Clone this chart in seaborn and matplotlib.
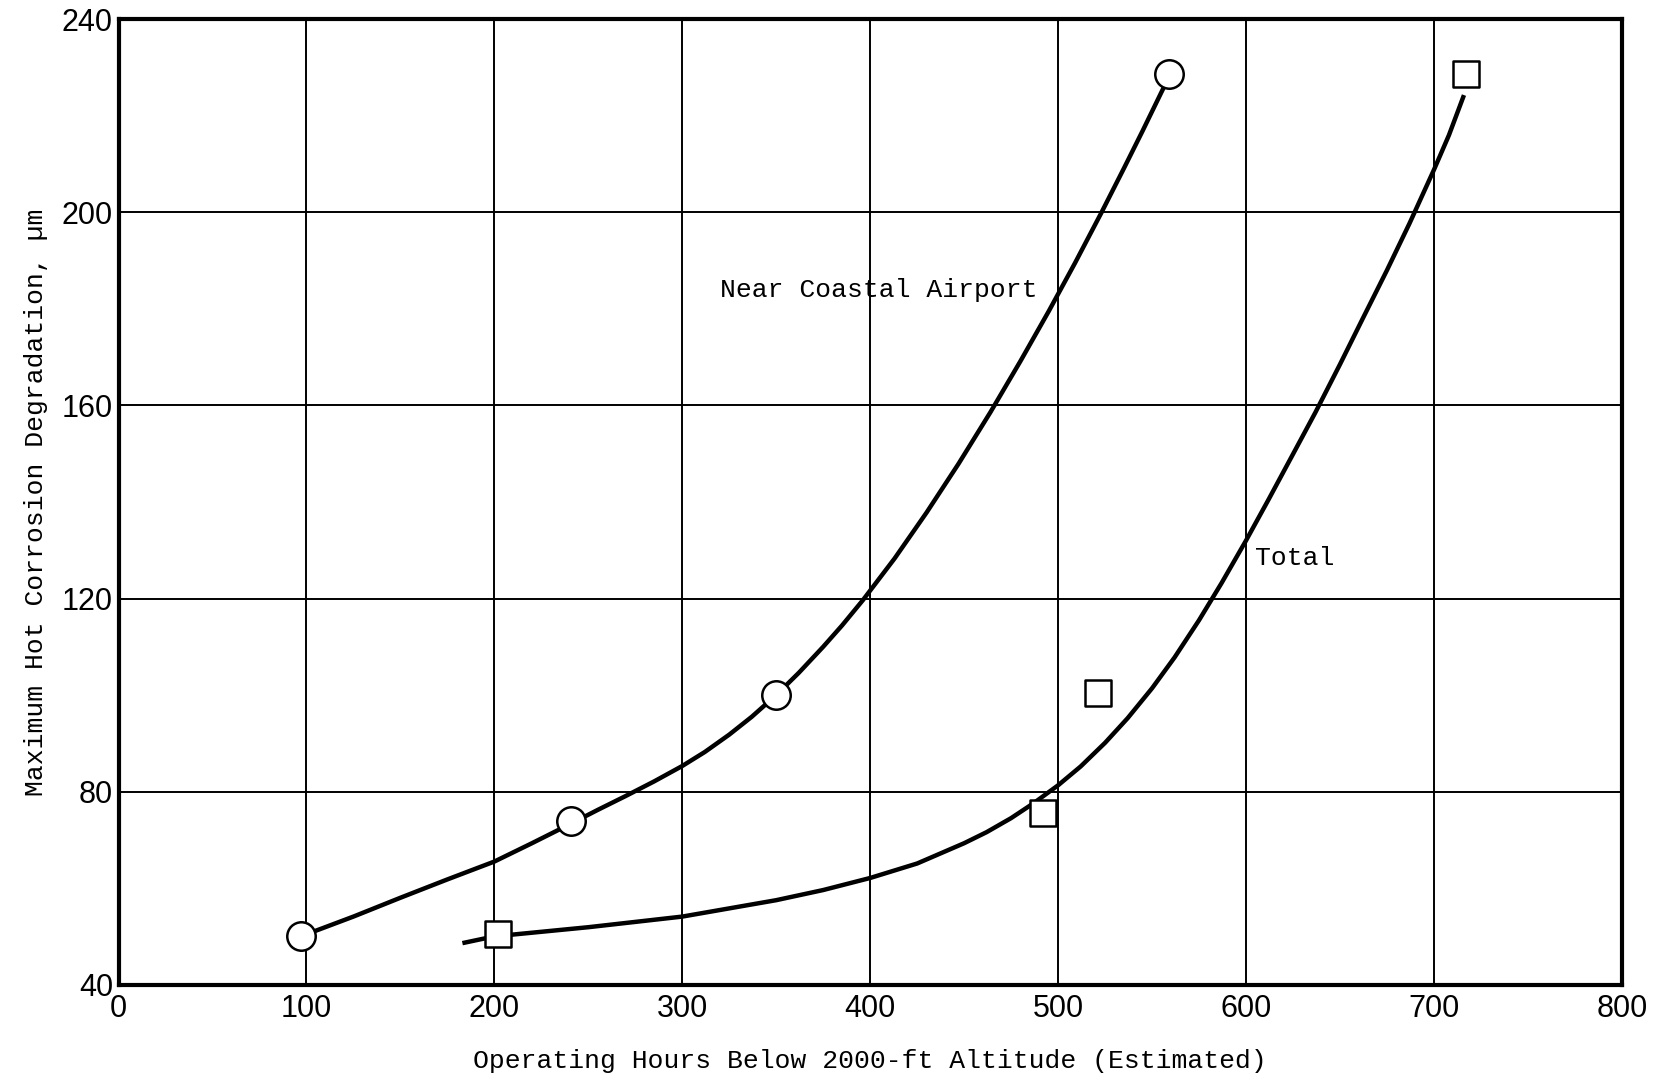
import matplotlib
matplotlib.use("Agg")
import matplotlib.pyplot as plt
from matplotlib import font_manager
import seaborn as sns
import pandas as pd

# ---- data ----
coastal_pts_x = [97, 241, 350, 559]
coastal_pts_y = [50, 74, 100, 228.6]
total_pts_x = [202, 492, 521, 717]
total_pts_y = [50.5, 75.5, 100.5, 228.6]

coastal_curve_x = [97, 125, 150, 175, 200, 220, 241, 255, 270, 285, 300, 312, 325, 337, 350, 362,
                   375, 385, 396, 413, 430, 447, 464, 480, 495, 509, 523, 535, 545, 557]
coastal_curve_y = [50, 54.1, 58.0, 61.8, 65.5, 69.3, 73.4, 76.2, 79.1, 82.1, 85.3, 88.2, 91.8, 95.5,
                   100.0, 104.6, 110.0, 114.4, 119.6, 128.3, 137.8, 147.9, 158.6, 169.2, 179.5,
                   189.5, 199.9, 209.1, 216.9, 226.5]
total_curve_x = [183, 200, 250, 300, 350, 375, 400, 425, 450, 462, 475, 487, 500, 512, 525, 537,
                 550, 562, 575, 587, 600, 612, 625, 637, 650, 662, 675, 687, 700, 708, 716]
total_curve_y = [48.6, 50.0, 51.9, 54.1, 57.5, 59.6, 62.1, 65.1, 69.3, 71.6, 74.5, 77.6, 81.3,
                 85.2, 90.1, 95.2, 101.4, 107.8, 115.5, 123.2, 132.0, 140.5, 149.9, 158.6, 168.5,
                 177.9, 188.0, 197.7, 208.8, 216.0, 224.3]

x_ticks = [0, 100, 200, 300, 400, 500, 600, 700, 800]
y_ticks = [40, 80, 120, 160, 200, 240]

x_label = "Operating Hours Below 2000-ft Altitude (Estimated)"
y_label = "Maximum Hot Corrosion Degradation, \u00b5m"
label_coastal = "Near Coastal Airport"
label_total = "Total"

sns.set_theme(style="white")
avail = {f.name for f in font_manager.fontManager.ttflist}
tick_font = "Liberation Sans Narrow" if "Liberation Sans Narrow" in avail else (
    "Liberation Sans" if "Liberation Sans" in avail else "DejaVu Sans")
mono_font = "Liberation Mono" if "Liberation Mono" in avail else "DejaVu Sans Mono"
plt.rcParams["font.family"] = [mono_font, "DejaVu Sans"]

fig = plt.figure(figsize=(16.6, 10.78), dpi=100)
ax = fig.add_axes([0.0714, 0.0866, 0.9056, 0.8955])

cdf = pd.DataFrame({"x": coastal_curve_x, "y": coastal_curve_y})
tdf = pd.DataFrame({"x": total_curve_x, "y": total_curve_y})
sns.lineplot(data=cdf, x="x", y="y", ax=ax, color="black", linewidth=3.2, sort=False,
             zorder=3, solid_capstyle="round", solid_joinstyle="round")
sns.lineplot(data=tdf, x="x", y="y", ax=ax, color="black", linewidth=3.2, sort=False,
             zorder=3, solid_capstyle="butt", solid_joinstyle="round")

pc = pd.DataFrame({"x": coastal_pts_x, "y": coastal_pts_y})
pt = pd.DataFrame({"x": total_pts_x, "y": total_pts_y})
sns.scatterplot(data=pc, x="x", y="y", ax=ax, marker="o", s=420, facecolor="white",
                edgecolor="black", linewidth=1.8, zorder=4)
sns.scatterplot(data=pt, x="x", y="y", ax=ax, marker="s", s=330, facecolor="white",
                edgecolor="black", linewidth=1.8, zorder=4)

ax.set_xlim(0, 800)
ax.set_ylim(40, 240)
ax.set_xticks(x_ticks)
ax.set_yticks(y_ticks)
ax.set_xticklabels([str(v) for v in x_ticks], fontfamily=tick_font, fontsize=22)
ax.set_yticklabels([str(v) for v in y_ticks], fontfamily=tick_font, fontsize=22)
ax.tick_params(axis="x", length=0, pad=7, colors="black")
ax.tick_params(axis="y", length=0, pad=4, colors="black")

ax.grid(True, color="black", linewidth=1.4)
ax.set_axisbelow(True)
for s in ax.spines.values():
    s.set_color("black")
    s.set_linewidth(3)

ax.set_xlabel(x_label, fontsize=19, color="black", labelpad=18)
ax.set_ylabel(y_label, fontsize=19, color="black", labelpad=10)

ax.text(320, 184, label_coastal, fontsize=19, color="black", va="center", ha="left", zorder=5)
ax.text(605, 128.4, label_total, fontsize=19, color="black", va="center", ha="left", zorder=5)

fig.savefig("out.png", dpi=100, facecolor="white")
